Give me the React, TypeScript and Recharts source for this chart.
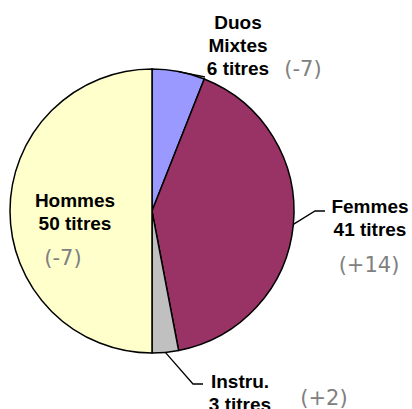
import { Cell, Pie, PieChart } from "recharts";

// titres par catégorie, écart vs période précédente
const CATEGORY_LINES = [["Duos", "Mixtes"], ["Femmes"], ["Instru."], ["Hommes"]];
const TITRES = [6, 41, 3, 50];
const CHANGES = ["-7", "+14", "+2", "-7"];

const COLORS = ["#9999FF", "#993366", "#C0C0C0", "#FFFFCC"];

// label placement relative to the pie centre (text x, first baseline, gray note, leader bend)
const LABEL_LAYOUT = [
  { tx: 86, ty: -182, gx: 151, gy: -135, line: [[53, -134]] as number[][] },
  { tx: 218, ty: 2, gx: 217, gy: 61, line: [[163, 0], [173, 0]] },
  { tx: 88, ty: 177, gx: 172, gy: 194, line: [[41, 173], [51, 173]] },
  { tx: -77, ty: -4, gx: -89, gy: 54, line: [] as number[][] },
];

const RAD = Math.PI / 180;
const LINE_H = 23;

const data = TITRES.map((v, i) => ({
  name: CATEGORY_LINES[i].join(" "),
  value: v,
  lines: CATEGORY_LINES[i],
  change: CHANGES[i],
}));

function renderLabel(props: any) {
  const { cx, cy, midAngle, outerRadius, index } = props;
  const d = data[index];
  const lay = LABEL_LAYOUT[index];
  const ax = cx + outerRadius * Math.cos(-midAngle * RAD);
  const ay = cy + outerRadius * Math.sin(-midAngle * RAD);
  const lines = [...d.lines, `${d.value} titres`];
  const pts = lay.line.length
    ? [[ax, ay], ...lay.line.map(([x, y]) => [cx + x, cy + y])]
    : [];
  return (
    <g key={`lbl-${index}`}>
      {pts.length > 0 && (
        <polyline
          points={pts.map((p) => p.join(",")).join(" ")}
          fill="none"
          stroke="#000"
          strokeWidth={1.3}
        />
      )}
      <text
        textAnchor="middle"
        fontFamily="'Liberation Sans', Arial, sans-serif"
        fontWeight="bold"
        fontSize={19}
        fill="#000"
      >
        {lines.map((t, j) => (
          <tspan key={j} x={cx + lay.tx} y={cy + lay.ty + j * LINE_H}>
            {t}
          </tspan>
        ))}
      </text>
      <text
        x={cx + lay.gx}
        y={cy + lay.gy}
        textAnchor="middle"
        fontFamily="'DejaVu Sans', Verdana, sans-serif"
        fontSize={21}
        fill="#808080"
      >
        ({d.change})
      </text>
    </g>
  );
}

export default function App() {
  return (
    <div style={{ position: "absolute", left: 0, top: 0, width: 412, height: 409, background: "#fff" }}>
      <PieChart width={412} height={409} margin={{ top: 0, right: 0, bottom: 0, left: 0 }}>
        <Pie
          data={data}
          dataKey="value"
          nameKey="name"
          cx={152}
          cy={211}
          outerRadius={142}
          startAngle={90}
          endAngle={-270}
          stroke="#000"
          strokeWidth={1.5}
          label={renderLabel}
          labelLine={false}
          isAnimationActive={false}
        >
          {data.map((_d, i) => (
            <Cell key={i} fill={COLORS[i]} />
          ))}
        </Pie>
      </PieChart>
    </div>
  );
}
